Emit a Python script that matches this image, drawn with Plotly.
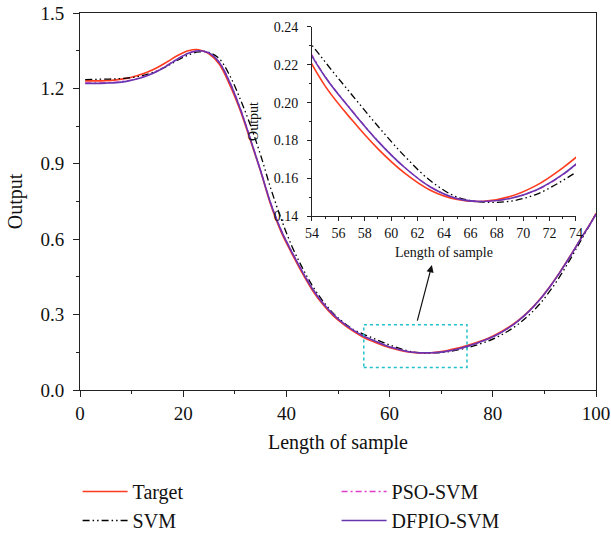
import plotly.graph_objects as go

# ---------------- data ----------------
sample = [1, 3, 5, 7, 9, 11, 13, 15, 17, 19, 21, 23, 25, 27, 29, 31, 33, 35, 37, 39,
          41, 43, 45, 47, 49, 51, 53, 55, 57, 59, 61, 63, 65, 67, 69, 71, 73, 75, 77, 79,
          81, 83, 85, 87, 89, 91, 93, 95, 97, 99, 100]

target = [1.230, 1.230, 1.231, 1.234, 1.240, 1.250, 1.264, 1.283, 1.307, 1.332,
          1.350, 1.354, 1.338, 1.296, 1.215, 1.115, 0.995, 0.870, 0.735, 0.628,
          0.545, 0.468, 0.398, 0.342, 0.297, 0.262, 0.233, 0.2087, 0.1910, 0.1755,
          0.1628, 0.1535, 0.1487, 0.1478, 0.1503, 0.1562, 0.1655, 0.1770, 0.1900, 0.2050,
          0.2250, 0.2490, 0.2780, 0.3140, 0.3580, 0.4100, 0.4690, 0.5330, 0.6000, 0.6660, 0.7030]

svm = [1.235, 1.236, 1.237, 1.238, 1.241, 1.246, 1.256, 1.270, 1.290, 1.313,
       1.333, 1.345, 1.343, 1.318, 1.252, 1.160, 1.055, 0.935, 0.800, 0.680,
       0.575, 0.490, 0.416, 0.356, 0.307, 0.270, 0.2405, 0.2215, 0.2043, 0.1875,
       0.1718, 0.1585, 0.1500, 0.1474, 0.1478, 0.1515, 0.1588, 0.1680, 0.1800, 0.1940,
       0.2120, 0.2350, 0.2630, 0.2980, 0.3400, 0.3920, 0.4520, 0.5200, 0.5920, 0.6640, 0.7000]

pso_svm = [1.222, 1.222, 1.223, 1.225, 1.230, 1.239, 1.252, 1.270, 1.294, 1.319,
           1.341, 1.350, 1.341, 1.304, 1.227, 1.124, 1.002, 0.874, 0.742, 0.636,
           0.553, 0.476, 0.406, 0.349, 0.303, 0.267, 0.238, 0.2138, 0.1960, 0.1797,
           0.1659, 0.1553, 0.1492, 0.1477, 0.1493, 0.1537, 0.1618, 0.1733, 0.1865, 0.2020,
           0.2215, 0.2460, 0.2760, 0.3125, 0.3565, 0.4085, 0.4675, 0.5315, 0.5995, 0.6648, 0.7000]

dfpio_svm = [1.220, 1.220, 1.221, 1.223, 1.228, 1.237, 1.250, 1.268, 1.292, 1.318,
             1.340, 1.350, 1.341, 1.303, 1.225, 1.122, 1.000, 0.872, 0.740, 0.634,
             0.551, 0.474, 0.404, 0.347, 0.302, 0.266, 0.237, 0.2135, 0.1958, 0.1795,
             0.1658, 0.1552, 0.1492, 0.1477, 0.1493, 0.1538, 0.1620, 0.1735, 0.1870, 0.2025,
             0.2220, 0.2465, 0.2765, 0.3130, 0.3570, 0.4090, 0.4680, 0.5320, 0.6000, 0.6650, 0.7000]

main_xticks = [0, 20, 40, 60, 80, 100]
main_yticks = [0.0, 0.3, 0.6, 0.9, 1.2, 1.5]
inset_xticks = [54, 56, 58, 60, 62, 64, 66, 68, 70, 72, 74]
inset_yticks = [0.14, 0.16, 0.18, 0.20, 0.22, 0.24]

zoom_box_x = [55, 75]
zoom_box_y = [0.09, 0.26]
arrow_tail = (65.3, 0.27)
arrow_head = (68.2, 0.497)

# ---------------- styles ----------------
FONT = "Liberation Serif"
series = [
    ("Target", target, dict(color="#FF3B1F", width=1.6), 1),
    ("SVM", svm, dict(color="#000000", width=1.3, dash="7px,3px,1.5px,3px,1.5px,3px"), 3),
    ("PSO-SVM", pso_svm, dict(color="#E03CC8", width=1.3, dash="6px,3px,2px,3px"), 2),
    ("DFPIO-SVM", dfpio_svm, dict(color="#6A35B0", width=1.6), 4),
]

fig = go.Figure()
for name, ys, line, rank in series:
    fig.add_trace(go.Scatter(x=sample, y=ys, mode="lines", name=name, line=dict(shape="spline", **line),
                             legendrank=rank, xaxis="x", yaxis="y"))
for name, ys, line, rank in series:
    fig.add_trace(go.Scatter(x=sample, y=ys, mode="lines", name=name, line=dict(shape="spline", **line),
                             showlegend=False, xaxis="x2", yaxis="y2"))

axis_common = dict(showgrid=False, zeroline=False, linecolor="#222222", linewidth=1,
                   ticks="outside", tickcolor="#222222", automargin=False,
                   ticklabeloverflow="allow")

fig.update_layout(
    width=611, height=537,
    margin=dict(l=80, r=15, t=13, b=147),
    plot_bgcolor="white", paper_bgcolor="white",
    font=dict(family=FONT, color="#111111", size=19),
    xaxis=dict(domain=[0, 1], range=[0, 100], tickvals=main_xticks, ticklen=6,
               minor=dict(dtick=10, ticklen=3, ticks="outside", tickcolor="#222222"),
               mirror=True, tickfont=dict(size=19),
               title=dict(text="Length of sample", font=dict(size=20), standoff=12),
               **axis_common),
    yaxis=dict(domain=[0, 1], range=[0, 1.5], tickvals=main_yticks, tickformat=".1f", ticklen=6,
               ticklabelstandoff=5,
               minor=dict(dtick=0.15, ticklen=3, ticks="outside", tickcolor="#222222"),
               mirror=True, tickfont=dict(size=19),
               title=dict(text="Output", font=dict(size=20), standoff=12),
               **axis_common),
    xaxis2=dict(domain=[0.4496, 0.9612], range=[54, 74], anchor="y2", tickvals=inset_xticks,
                ticklen=4, minor=dict(dtick=1, ticklen=2, ticks="outside", tickcolor="#222222"),
                tickfont=dict(size=14),
                title=dict(text="Length of sample", font=dict(size=14), standoff=7),
                **axis_common),
    yaxis2=dict(domain=[0.4615, 0.9629], range=[0.14, 0.24], anchor="x2", tickvals=inset_yticks,
                tickformat=".2f", ticklen=4, ticklabelstandoff=6,
                minor=dict(dtick=0.01, ticklen=2, ticks="outside", tickcolor="#222222"),
                tickfont=dict(size=14),
                title=dict(text="Output", font=dict(size=14), standoff=11),
                **axis_common),
    legend=dict(orientation="h", xref="container", yref="container",
                x=0.127, xanchor="left", y=0.121, yanchor="top",
                itemwidth=45, entrywidth=199, entrywidthmode="pixels", traceorder="normal",
                font=dict(size=20, family=FONT), bgcolor="rgba(0,0,0,0)"),
    showlegend=True,
)

fig.add_shape(type="rect", xref="x", yref="y", x0=zoom_box_x[0], x1=zoom_box_x[1],
              y0=zoom_box_y[0], y1=zoom_box_y[1],
              line=dict(color="#22C0C8", width=1.5, dash="dot"))

fig.add_annotation(xref="x", yref="y", axref="x", ayref="y",
                   x=arrow_head[0], y=arrow_head[1], ax=arrow_tail[0], ay=arrow_tail[1],
                   text="", showarrow=True, arrowhead=2, arrowsize=1.2, arrowwidth=1.2,
                   arrowcolor="#111111")

fig.write_html("out.html", config={"displayModeBar": False},
               post_script="document.body.style.margin='0px';")
